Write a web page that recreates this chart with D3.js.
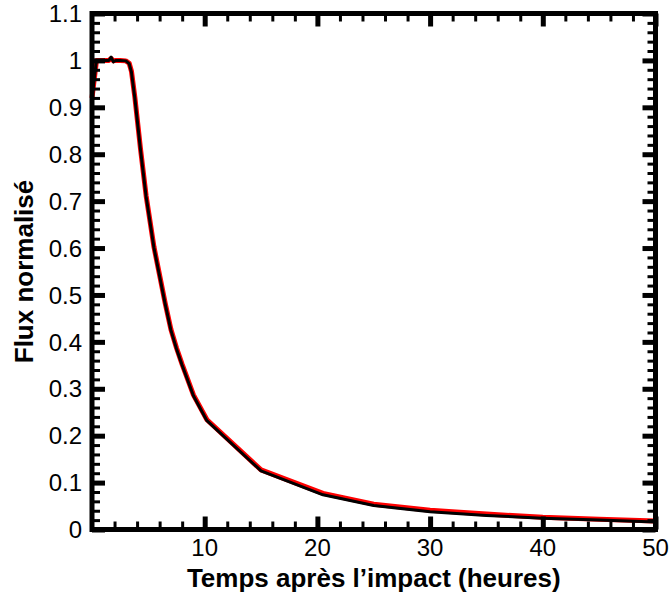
<!DOCTYPE html>
<html><head><meta charset="utf-8">
<script src="https://cdn.jsdelivr.net/npm/d3@7"></script>
<style>body{margin:0;background:#fff}svg{display:block}text{font-family:"Liberation Sans",Arial,sans-serif}
.tick line{stroke:#000 !important}</style>
</head><body><svg id="c" width="670" height="598"></svg>
<script>
const timeHours = [0, 0.4, 1, 1.5, 1.7, 1.9, 2.1, 2.5, 3, 3.3, 3.5, 3.8, 4.3, 4.8, 5.5, 6, 6.5, 7, 7.5, 8, 9, 10.2, 15, 20.5, 25, 30, 35, 40, 45, 50];
const fluxBlack = [0.92, 1.0, 1.0, 1.0, 1.007, 0.997, 1.0, 1.0, 0.999, 0.993, 0.975, 0.92, 0.81, 0.71, 0.60, 0.54, 0.48, 0.425, 0.385, 0.35, 0.285, 0.232, 0.125, 0.074, 0.051, 0.038, 0.030, 0.024, 0.020, 0.016];
const fluxRed   = [0.92, 1.0, 1.0, 1.0, 1.004, 0.999, 1.0, 1.0, 0.999, 0.994, 0.977, 0.922, 0.812, 0.712, 0.602, 0.542, 0.482, 0.427, 0.387, 0.352, 0.287, 0.234, 0.127, 0.077, 0.054, 0.041, 0.033, 0.026, 0.022, 0.018];
const xMajorTicks = [10, 20, 30, 40, 50];
const xMinorTicks = [2, 4, 6, 8, 12, 14, 16, 18, 22, 24, 26, 28, 32, 34, 36, 38, 42, 44, 46, 48];
const yMajorTicks = [0, 0.1, 0.2, 0.3, 0.4, 0.5, 0.6, 0.7, 0.8, 0.9, 1, 1.1];
const yMinorTicks = [0.02, 0.04, 0.06, 0.08, 0.12, 0.14, 0.16, 0.18, 0.22, 0.24, 0.26, 0.28, 0.32, 0.34, 0.36, 0.38, 0.42, 0.44, 0.46, 0.48, 0.52, 0.54, 0.56, 0.58, 0.62, 0.64, 0.66, 0.68, 0.72, 0.74, 0.76, 0.78, 0.82, 0.84, 0.86, 0.88, 0.92, 0.94, 0.96, 0.98, 1.02, 1.04, 1.06, 1.08];
const xTickLabels = ["10", "20", "30", "40", "50"];
const yTickLabels = ["0", "0.1", "0.2", "0.3", "0.4", "0.5", "0.6", "0.7", "0.8", "0.9", "1", "1.1"];
const xTitle = "Temps après l’impact (heures)";
const yTitle = "Flux normalisé";

const svg = d3.select("#c");
const L = 92, R = 655.5, T = 13.5, B = 529.5;
const x = d3.scaleLinear().domain([0, 50]).range([L, R]);
const y = d3.scaleLinear().domain([0, 1.1]).range([B, T]);

// data lines
const line = d3.line().x(d => x(d[0])).y(d => y(d[1]));
svg.append("path").datum(timeHours.map((t,i)=>[t, fluxRed[i]]))
  .attr("d", line).attr("fill","none").attr("stroke","#ff0000").attr("stroke-width",5).attr("stroke-linejoin","round");
svg.append("path").datum(timeHours.map((t,i)=>[t, fluxBlack[i]]))
  .attr("d", line).attr("fill","none").attr("stroke","#000").attr("stroke-width",3).attr("stroke-linejoin","round");

// inward ticks on all four sides via d3 axes
function addAxis(axisFn, scale, vals, len, w, tx, ty) {
  const g = svg.append("g").attr("transform", `translate(${tx},${ty})`)
    .call(axisFn(scale).tickValues(vals).tickSizeInner(-len).tickSizeOuter(0).tickFormat(""));
  g.select(".domain").remove();
  g.selectAll(".tick line").style("stroke", "#000").style("stroke-width", w + "px");
  g.selectAll(".tick text").remove();
}
addAxis(d3.axisBottom, x, xMajorTicks, 13, 5, 0, B);
addAxis(d3.axisBottom, x, xMinorTicks, 8, 3, 0, B);
addAxis(d3.axisTop, x, xMajorTicks, 13, 5, 0, T);
addAxis(d3.axisTop, x, xMinorTicks, 8, 3, 0, T);
addAxis(d3.axisLeft, y, yMajorTicks, 13, 5, L, 0);
addAxis(d3.axisLeft, y, yMinorTicks, 8, 3, L, 0);
addAxis(d3.axisRight, y, yMajorTicks, 13, 5, R, 0);
addAxis(d3.axisRight, y, yMinorTicks, 8, 3, R, 0);

// frame
svg.append("rect").attr("x",L).attr("y",T).attr("width",R-L).attr("height",B-T)
  .style("fill","none").style("stroke","#000").style("stroke-width","5px");

// tick labels
svg.append("g").selectAll("text").data(xMajorTicks).join("text")
  .attr("x", d => x(d)).attr("y", 556).attr("text-anchor","middle").attr("font-size",24).attr("fill","#000")
  .text((d,i) => xTickLabels[i]);
svg.append("g").selectAll("text").data(yMajorTicks).join("text")
  .attr("x", 82).attr("y", d => y(d)).attr("dy","0.36em").attr("text-anchor","end").attr("font-size",24).attr("fill","#000")
  .text((d,i) => yTickLabels[i]);

// titles
svg.append("text").attr("x",(L+R)/2).attr("y",587).attr("text-anchor","middle")
  .attr("font-size",26).attr("font-weight","bold").text(xTitle);
svg.append("text").attr("transform",`translate(33,${(T+B)/2}) rotate(-90)`).attr("text-anchor","middle")
  .attr("font-size",26).attr("font-weight","bold").text(yTitle);
</script></body></html>
